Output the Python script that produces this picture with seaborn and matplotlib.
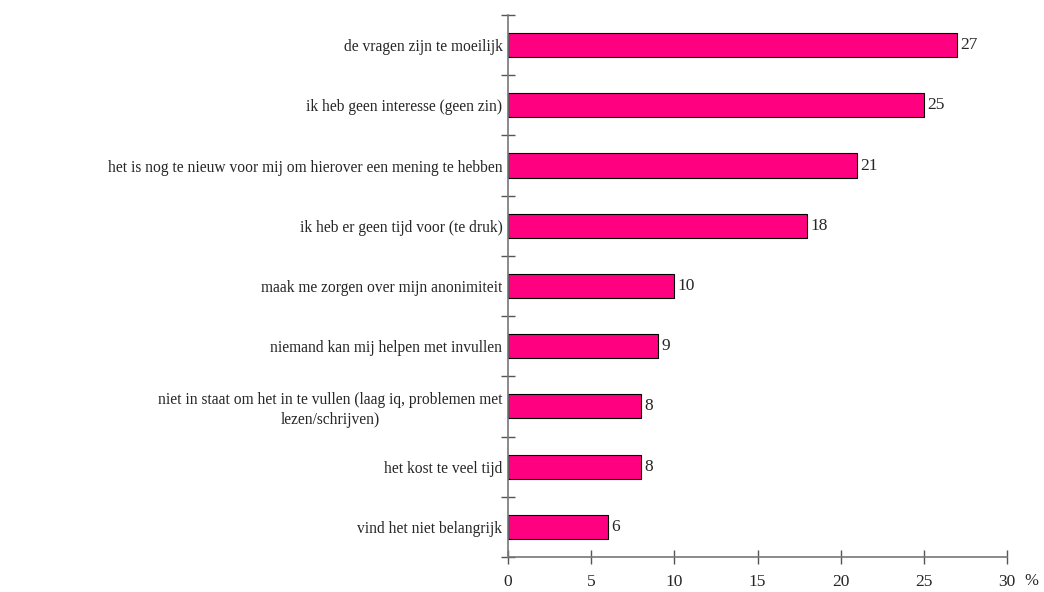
import numpy as np
import pandas as pd
import matplotlib
matplotlib.use("Agg")
import matplotlib.pyplot as plt
import seaborn as sns

categories = [
    "de vragen zijn te moeilijk",
    "ik heb geen interesse (geen zin)",
    "het is nog te nieuw voor mij om hierover een mening te hebben",
    "ik heb er geen tijd voor (te druk)",
    "maak me zorgen over mijn anonimiteit",
    "niemand kan mij helpen met invullen",
    "niet in staat om het in te vullen (laag iq, problemen met\nlezen/schrijven)",
    "het kost te veel tijd",
    "vind het niet belangrijk",
]
values = [27, 25, 21, 18, 10, 9, 8, 8, 6]
x_ticks = [0, 5, 10, 15, 20, 25, 30]

df = pd.DataFrame({"reden": categories, "pct": values})

sns.set_style("white", {"xtick.bottom": True, "ytick.left": True})
plt.rcParams["font.family"] = ["Liberation Serif", "DejaVu Serif"]

fig = plt.figure(figsize=(10.44, 5.92), dpi=100)
ax = fig.add_axes([0.4866, 0.0591, 0.4780, 0.9156])

sns.barplot(data=df, x="pct", y="reden", orient="h", color="#FF0080",
            saturation=1, width=0.4, edgecolor="black", linewidth=0.8, ax=ax)

for i, v in enumerate(values):
    ax.text(v + 0.2, i, str(v), va="center", ha="left", fontsize=12.5)

ax.set_xlim(0, 30)
ax.set_ylim(len(categories) - 0.5, -0.5)
ax.set_xticks(x_ticks)
ax.set_xticklabels([str(t) for t in x_ticks], fontsize=12.5)
ax.set_yticks(range(len(categories)))
ax.set_yticklabels(categories, fontsize=11.2, multialignment="center", linespacing=1.3)
ax.set_yticks(np.arange(-0.5, len(categories), 1), minor=True)
ax.tick_params(axis="y", which="major", length=0, pad=4)
ax.tick_params(axis="y", which="minor", left=True, length=10, direction="inout", color="#555555", width=1)
ax.tick_params(axis="x", which="major", bottom=True, length=10, direction="inout", color="#555555", width=1, pad=7)
ax.set_xlabel("")
ax.set_ylabel("")

for s in ["top", "right"]:
    ax.spines[s].set_visible(False)
for s in ["left", "bottom"]:
    ax.spines[s].set_color("#777777")
    ax.spines[s].set_linewidth(1.2)

ax.text(1.035, -0.03, "%", transform=ax.transAxes, fontsize=12, va="top", ha="left")

fig.savefig("out.png", dpi=100)
